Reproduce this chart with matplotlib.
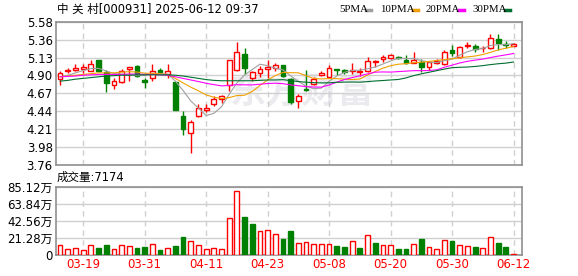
import numpy as np
import matplotlib
matplotlib.use("Agg")
import matplotlib.pyplot as plt
from matplotlib.patches import Rectangle
from matplotlib.lines import Line2D

# daily data, 2025-03-14 .. 2025-06-12 (60 trading days)
dates = ["03-14", "03-17", "03-18", "03-19", "03-20", "03-21", "03-24", "03-25", "03-26", "03-27",
         "03-28", "03-31", "04-01", "04-02", "04-03", "04-07", "04-08", "04-09", "04-10", "04-11",
         "04-14", "04-15", "04-16", "04-17", "04-18", "04-21", "04-22", "04-23", "04-24", "04-25",
         "04-28", "04-29", "04-30", "05-06", "05-07", "05-08", "05-09", "05-12", "05-13", "05-14",
         "05-15", "05-16", "05-19", "05-20", "05-21", "05-22", "05-23", "05-26", "05-27", "05-28",
         "05-29", "05-30", "06-03", "06-04", "06-05", "06-06", "06-09", "06-10", "06-11", "06-12"]

opens = [4.85, 4.95, 4.97, 4.98, 4.96, 5.09, 4.94, 4.78, 4.81, 4.98,
         5.02, 4.84, 4.86, 4.97, 4.92, 4.81, 4.38, 4.17, 4.38, 4.46,
         4.53, 4.60, 4.78, 4.97, 5.17, 4.86, 4.93, 4.98, 4.99, 5.03,
         4.85, 4.57, 4.73, 4.79, 4.90, 4.88, 4.98, 4.97, 4.955, 4.94,
         4.96, 5.07, 5.10, 5.12, 5.135, 5.09, 5.05, 5.07, 5.01, 5.05,
         5.04, 5.22, 5.13, 5.27, 5.27, 5.24, 5.25, 5.36, 5.30, 5.27]
highs = [4.95, 4.99, 5.04, 5.04, 5.09, 5.09, 4.97, 4.87, 4.98, 5.01,
         5.03, 4.87, 5.04, 4.99, 5.04, 4.81, 4.44, 4.33, 4.53, 4.54,
         4.63, 4.65, 5.09, 5.32, 5.24, 4.95, 5.02, 5.09, 5.06, 5.03,
         4.86, 4.66, 4.97, 4.88, 4.95, 5.03, 4.98, 4.98, 5.05, 4.99,
         5.13, 5.09, 5.16, 5.17, 5.15, 5.16, 5.19, 5.10, 5.07, 5.11,
         5.22, 5.28, 5.27, 5.32, 5.30, 5.27, 5.43, 5.43, 5.34, 5.31]
lows = [4.78, 4.93, 4.95, 4.93, 4.95, 4.94, 4.69, 4.72, 4.80, 4.83,
        4.88, 4.74, 4.83, 4.93, 4.86, 4.46, 4.14, 3.91, 4.37, 4.43,
        4.51, 4.55, 4.70, 4.96, 4.91, 4.83, 4.88, 4.87, 4.96, 4.88,
        4.54, 4.49, 4.70, 4.78, 4.89, 4.87, 4.90, 4.91, 4.92, 4.89,
        4.94, 5.01, 5.07, 5.11, 5.11, 5.04, 5.05, 4.94, 4.97, 5.04,
        5.03, 5.15, 5.12, 5.24, 5.19, 5.19, 5.23, 5.22, 5.25, 5.27]
closes = [4.93, 4.97, 4.99, 5.00, 5.04, 4.95, 4.80, 4.83, 4.95, 5.00,
          4.89, 4.82, 4.96, 4.94, 4.95, 4.46, 4.22, 4.30, 4.48, 4.485,
          4.60, 4.64, 5.09, 5.20, 4.99, 4.94, 4.98, 5.00, 5.03, 4.89,
          4.56, 4.63, 4.71, 4.855, 4.93, 4.99, 4.97, 4.94, 4.97, 4.95,
          5.08, 5.075, 5.135, 5.16, 5.12, 5.06, 5.09, 5.00, 5.07, 5.08,
          5.19, 5.18, 5.26, 5.28, 5.23, 5.25, 5.37, 5.31, 5.28, 5.30]

ma5 = [4.88, 4.90, 4.93, 4.96, 4.984, 4.988, 4.954, 4.922, 4.914, 4.906,
       4.894, 4.898, 4.924, 4.922, 4.912, 4.826, 4.706, 4.574, 4.482, 4.388,
       4.416, 4.50, 4.658, 4.802, 4.904, 4.972, 5.04, 5.022, 4.988, 4.968,
       4.892, 4.822, 4.764, 4.729, 4.737, 4.823, 4.891, 4.937, 4.96, 4.964,
       4.982, 5.004, 5.043, 5.081, 5.115, 5.111, 5.113, 5.086, 5.068, 5.06,
       5.086, 5.104, 5.156, 5.198, 5.228, 5.24, 5.278, 5.288, 5.288, 5.302]
ma10 = [4.88, 4.89, 4.90, 4.91, 4.92, 4.93, 4.93, 4.93, 4.94, 4.945,
        4.941, 4.926, 4.923, 4.918, 4.909, 4.86, 4.802, 4.749, 4.702, 4.65,
        4.621, 4.603, 4.616, 4.642, 4.646, 4.694, 4.77, 4.84, 4.895, 4.936,
        4.932, 4.931, 4.893, 4.859, 4.853, 4.858, 4.857, 4.851, 4.845, 4.851,
        4.903, 4.948, 4.99, 5.021, 5.040, 5.047, 5.059, 5.065, 5.075, 5.088,
        5.099, 5.109, 5.121, 5.133, 5.144, 5.163, 5.191, 5.222, 5.243, 5.265]
ma20 = [4.88, 4.885, 4.89, 4.90, 4.905, 4.91, 4.91, 4.91, 4.91, 4.915,
        4.915, 4.91, 4.91, 4.905, 4.90, 4.88, 4.86, 4.84, 4.82, 4.798,
        4.781, 4.765, 4.770, 4.78, 4.778, 4.777, 4.786, 4.795, 4.799, 4.793,
        4.777, 4.767, 4.755, 4.75, 4.749, 4.776, 4.813, 4.845, 4.87, 4.893,
        4.917, 4.939, 4.942, 4.940, 4.946, 4.952, 4.958, 4.958, 4.960, 4.969,
        5.001, 5.028, 5.056, 5.077, 5.092, 5.105, 5.125, 5.143, 5.159, 5.176]
ma30 = [4.825, 4.835, 4.85, 4.86, 4.87, 4.88, 4.89, 4.895, 4.90, 4.90,
        4.905, 4.905, 4.905, 4.905, 4.905, 4.90, 4.89, 4.875, 4.86, 4.845,
        4.835, 4.83, 4.83, 4.83, 4.83, 4.83, 4.835, 4.84, 4.84, 4.844,
        4.831, 4.82, 4.811, 4.806, 4.803, 4.804, 4.810, 4.813, 4.814, 4.812,
        4.819, 4.827, 4.833, 4.840, 4.846, 4.866, 4.895, 4.918, 4.938, 4.958,
        4.978, 4.996, 5.001, 5.004, 5.012, 5.022, 5.035, 5.046, 5.054, 5.068]

# volume in 万
volume = [12.05, 7.06, 8.3, 5.8, 12.05, 8.7, 12.05, 7.06, 12.05, 10.8,
          8.7, 9.97, 13.3, 6.2, 8.3, 10.8, 22.4, 17.0, 12.05, 7.06,
          8.3, 7.06, 45.7, 79.3, 47.4, 39.0, 29.5, 31.2, 26.2, 19.9,
          29.9, 15.4, 16.6, 13.7, 13.7, 13.7, 11.2, 10.0, 17.4, 8.7,
          24.9, 15.0, 12.5, 12.5, 7.5, 7.5, 13.7, 19.9, 10.0, 7.5,
          18.7, 17.4, 12.5, 11.2, 10.0, 8.7, 22.4, 15.4, 10.0, 0.72]

price_ticks = ["3.76", "3.98", "4.21", "4.44", "4.67", "4.90", "5.13", "5.36", "5.58"]
vol_ticks = ["0", "21.28万", "42.56万", "63.84万", "85.12万"]
date_ticks = [3, 11, 19, 27, 35, 43, 51, 59]

RED = "#ff0000"
GREEN = "#008000"
GRID = "#d0d0d0"
FRAME = "#909090"
cjk = ["DejaVu Sans", "Noto Sans CJK SC"]

W, H = 578, 276
fig = plt.figure(figsize=(W / 100, H / 100), dpi=100)
ax = fig.add_axes([55.5 / W, 1 - 165 / H, 466.5 / W, (165 - 21.7) / H])
axv = fig.add_axes([55.5 / W, 1 - 255 / H, 466.5 / W, (255 - 186.7) / H])

n = len(closes)
x = np.arange(n)
bw = 0.62

# watermark
ax.text(31.5, 4.69, "东方财富", ha="center", va="center", fontsize=26, fontweight="bold",
        color="#ebebef", family="Noto Sans CJK SC", zorder=0)

# candles
for i in range(n):
    o, h, l, c = opens[i], highs[i], lows[i], closes[i]
    up = c >= o
    col = RED if up else GREEN
    ax.vlines(i, l, h, color=col, lw=1, zorder=3)
    bot = min(o, c)
    ht = max(abs(c - o), 0.002)
    ax.add_patch(Rectangle((i - bw / 2, bot), bw, ht, facecolor="white" if up else GREEN,
                           edgecolor=col, lw=1, zorder=4))

# moving averages
ax.plot(x, ma5, color="#a0a0a0", lw=0.8, zorder=5)
ax.plot(x, ma10, color="#f0a000", lw=0.8, zorder=5)
ax.plot(x, ma20, color="#ff00ff", lw=0.8, zorder=5)
ax.plot(x, ma30, color="#006f2f", lw=0.8, zorder=5)

ymin, ymax = 3.76, 5.58
ax.set_ylim(ymin, ymax)
ax.set_yticks(np.linspace(ymin, ymax, len(price_ticks)))
ax.set_yticklabels(price_ticks)

# volume bars, coloured by change against previous close
prev = [closes[0] - 1] + closes[:-1]
for i in range(n):
    up = closes[i] >= prev[i]
    axv.bar(i, volume[i], width=bw, facecolor="white" if up else GREEN,
            edgecolor=RED if up else GREEN, lw=1, zorder=3)

vmax = 85.12
axv.set_ylim(0, vmax)
axv.set_yticks(np.linspace(0, vmax, len(vol_ticks)))
axv.set_yticklabels(vol_ticks, family=cjk)

for a in (ax, axv):
    a.set_xlim(-0.6, 60.1)
    a.set_xticks(date_ticks)
    a.grid(axis="y", color=GRID, lw=1, zorder=1)
    for t in date_ticks:
        a.axvline(t, color=GRID, lw=1, ls=(0, (4, 3)), zorder=1)
    a.tick_params(length=0, pad=2, labelsize=8.5, colors="#000000")
    for s in a.spines.values():
        s.set_color(FRAME)
        s.set_linewidth(1.2)
    a.set_axisbelow(True)

ax.set_xticklabels([])
axv.set_xticklabels([dates[t] for t in date_ticks], color=RED, fontsize=8.5)
axv.tick_params(axis="x", pad=2)

# header text
fig.text(57 / W, 1 - 9.5 / H, "中 关 村[000931] 2025-06-12 09:37", family=cjk,
         fontsize=8.3, va="center", ha="left")
fig.text(57 / W, 1 - 177 / H, "成交量:7174", family=cjk, fontsize=8.3, va="center", ha="left")

# legend
legend = [("5PMA", "#a0a0a0", 339, 366), ("10PMA", "#f0a000", 380, 413),
          ("20PMA", "#ff00ff", 426, 459), ("30PMA", "#006f2f", 472, 505)]
for label, col, tx, lx in legend:
    fig.text(tx / W, 1 - 9.5 / H, label, fontsize=7.8, va="center", ha="left",
             family="Liberation Serif")
    fig.add_artist(Line2D([lx / W, (lx + 5) / W], [1 - 10 / H, 1 - 10 / H], color=col, lw=2.5))

fig.savefig("out.png", dpi=100)
